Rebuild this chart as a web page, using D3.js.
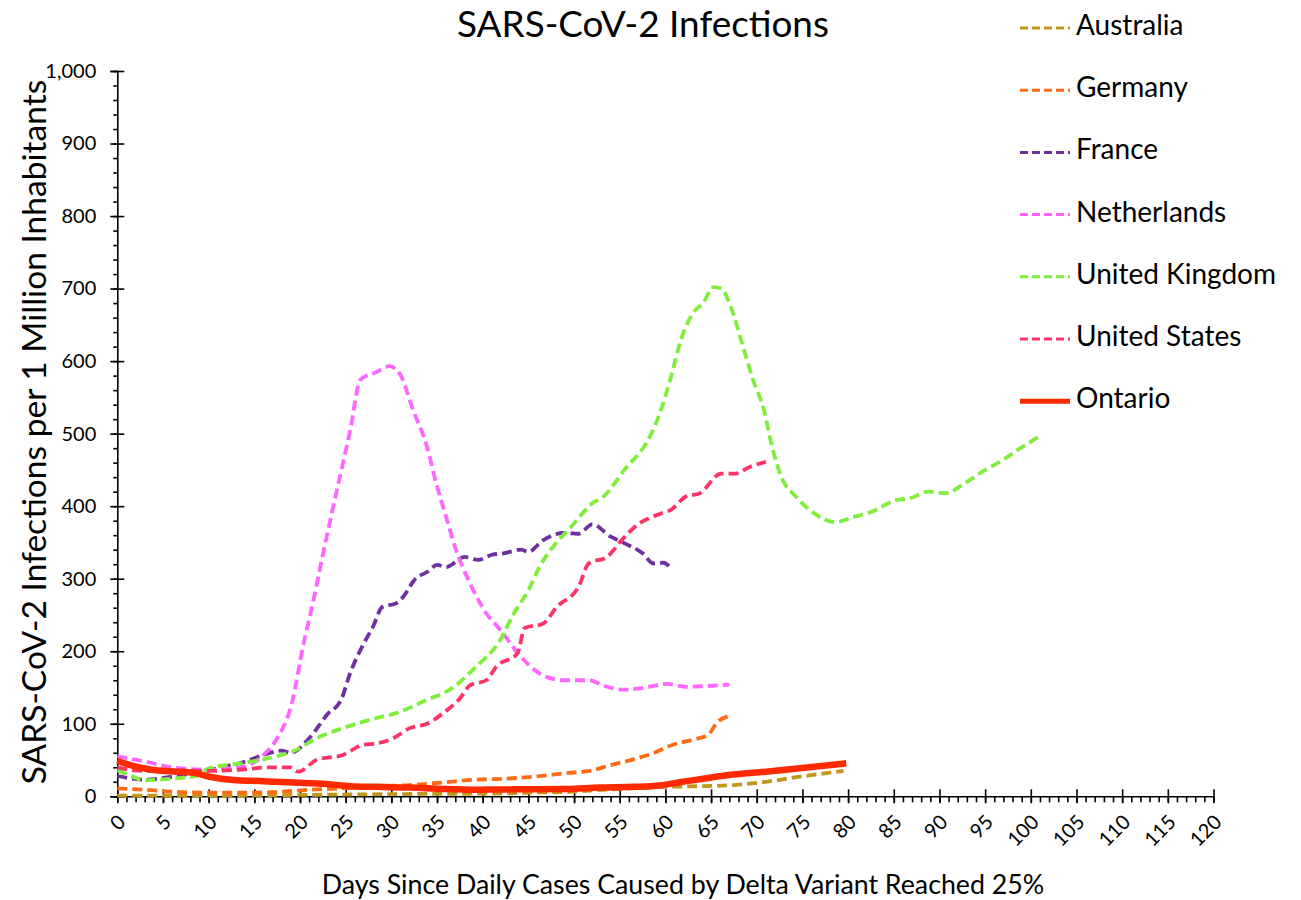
<!DOCTYPE html>
<html>
<head>
<meta charset="utf-8">
<script src="https://cdn.jsdelivr.net/npm/d3@7"></script>
<style>
  body { margin: 0; background: #fff; }
  svg { font-family: Lato, "Open Sans", sans-serif; }
</style>
</head>
<body>
<script>
const W = 1301, H = 900;

// [day, infections per 1M]
const australia = [[0,1],[10,1],[21,2],[30,3],[42,4],[45.5,5],[49,6],[53,9],[56.5,11],[60,13],[64,14],[67.5,15.5],[71,20],[74.7,27],[79.5,35]];
const germany = [[0,11],[3,9],[6.5,6],[10,5],[14,5],[17.5,6],[21,9],[24.7,11],[28.4,14],[32,15.5],[35.6,19],[39.3,23],[42,24],[45.5,27],[49.2,32],[51.7,35],[54,43],[56.5,51],[58.6,59],[60.8,71],[63,78],[64.7,85],[65.6,101],[67,111]];
const france = [[0,28],[3,23],[6,27],[10,36],[14,48],[16,57],[18,63],[19,60],[21,80],[23,113],[24.5,133],[25.5,170],[27,211],[28,234],[29,261],[30.5,266],[31.3,275],[32.5,298],[34,310],[35,319],[36,316],[38,330],[39.5,326],[41,333],[42.3,335],[44.2,340],[45,337],[46.6,353],[48.9,363],[50.5,362],[52,375],[54,358],[55.5,349],[57.5,335],[58.7,321],[59.8,322],[60.5,316]];
const netherlands = [[0,55],[3,48],[6.5,39],[10,37],[13.8,41],[16,57],[17.4,78],[19.2,133],[20.3,205],[21.5,272],[22.5,333],[24,420],[25.5,505],[26.6,574],[28.4,585],[29.8,593],[30.9,583],[32.4,532],[33.9,482],[34.9,432],[36,385],[37.1,339],[38.6,294],[40.4,252],[41.9,230],[44.2,192],[46.9,165],[48.9,160],[51.6,160],[53.6,151],[55.5,147],[57.5,149],[60.2,155],[62.2,151],[64.5,152],[67,154]];
const unitedKingdom = [[0,36],[2.1,25],[2.8,22],[6.5,25],[8.3,27],[10.1,39],[13.8,46],[17.4,55],[19.6,64],[21.8,80],[24.7,94],[28.4,108],[30.6,115],[33.9,133],[36.4,147],[39.3,179],[41.9,215],[43.4,252],[45,284],[46.2,316],[47.7,344],[49.7,372],[52,404],[53.2,413],[55.5,450],[58.3,496],[59.5,532],[60.6,578],[61.8,633],[63,666],[64.1,680],[65.3,702],[66.1,700],[67.3,670],[68.4,624],[69.6,574],[70.8,532],[71.6,486],[72.7,440],[74.3,413],[76.3,390],[78.6,378],[80.6,385],[82.5,392],[85.2,408],[86.8,411],[88.8,420],[90.7,418],[92.7,431],[95,450],[96.6,461],[98.5,477],[100.9,496]];
const unitedStates = [[0,40],[2.8,35],[6.5,36],[10.1,35],[13.8,37],[16.7,40],[18.9,40],[19.8,34],[21.8,50],[24.7,57],[26.9,71],[28.4,73],[30.2,80],[32,94],[33.9,100],[35.6,114],[37.5,135],[38.6,153],[40.4,160],[41.5,179],[43.8,197],[44.6,232],[46.6,238],[48.1,261],[50.5,289],[51.6,321],[53.6,330],[55.2,353],[56.7,372],[59.5,390],[60.6,395],[62.2,413],[63.8,418],[66.1,445],[67.7,445],[69.2,454],[71,461]];
const ontario = [[0,49],[1.4,43],[3.6,37],[6.5,34],[8.3,32.5],[10.1,27],[12.7,22.5],[15.6,21],[19.3,19],[22.9,17],[25.5,14],[28.4,13],[32,12],[35.7,10],[39.3,9],[42,9.5],[45.5,9.6],[49.2,10],[52.8,12],[56.5,13],[59.4,15],[61.9,20],[64.5,25],[67.4,30],[71,34],[74.7,38.6],[79.8,45.5]];

const seriesNames = ["Australia", "Germany", "France", "Netherlands", "United Kingdom", "United States", "Ontario"];
const seriesData = [australia, germany, france, netherlands, unitedKingdom, unitedStates, ontario];
const seriesColors = ["#c4961c", "#ff6a14", "#7030a0", "#ff66ff", "#80ee3c", "#ff3366", "#ff2a00"];

const xTicks = d3.range(0, 121, 5);
const yTicks = d3.range(0, 1001, 100);

const x = d3.scaleLinear().domain([0, 120]).range([117.3, 1213.5]);
const y = d3.scaleLinear().domain([0, 1000]).range([796.3, 71]);

const svg = d3.select('body').append('svg')
  .attr('width', W)
  .attr('height', H);

// fit text to a given width by changing font size
function fitWidth(sel, target) {
  const node = sel.node();
  const fs = parseFloat(sel.attr('font-size'));
  const len = node.getComputedTextLength();
  sel.attr('font-size', fs * target / len);
}

svg.append('text')
  .attr('x', 643).attr('y', 37)
  .attr('text-anchor', 'middle')
  .attr('font-size', 32)
  .text('SARS-CoV-2 Infections')
  .call(fitWidth, 372);

svg.append('text')
  .attr('transform', 'translate(37,432) rotate(-90)')
  .attr('text-anchor', 'middle')
  .attr('dominant-baseline', 'middle')
  .attr('font-size', 24)
  .text('SARS-CoV-2 Infections per 1 Million Inhabitants')
  .call(fitWidth, 705);

svg.append('text')
  .attr('x', 683).attr('y', 887)
  .attr('text-anchor', 'middle')
  .attr('dominant-baseline', 'middle')
  .attr('font-size', 24)
  .text('Days Since Daily Cases Caused by Delta Variant Reached 25%')
  .call(fitWidth, 723);

// minor ticks
svg.append('g')
  .attr('transform', `translate(${x(0)},0)`)
  .call(d3.axisLeft(y).tickValues(d3.range(0, 1001, 20)).tickSize(4).tickFormat(''))
  .call(g => g.select('.domain').remove());
svg.append('g')
  .attr('transform', `translate(0,${y(0)})`)
  .call(d3.axisBottom(x).tickValues(d3.range(0, 121, 1)).tickSize(6).tickFormat(''))
  .call(g => g.select('.domain').remove());

const yAxis = svg.append('g')
  .attr('transform', `translate(${x(0)},0)`)
  .call(d3.axisLeft(y).tickValues(yTicks).tickSize(7).tickPadding(14).tickFormat(d3.format(',')));
yAxis.selectAll('.tick line').attr('x1', 7);
yAxis.selectAll('text').attr('font-size', 20).attr('font-family', 'Lato, sans-serif').attr('fill', '#000');

const xAxis = svg.append('g')
  .attr('transform', `translate(0,${y(0)})`)
  .call(d3.axisBottom(x).tickValues(xTicks).tickSize(7).tickSizeOuter(0));
xAxis.selectAll('.tick line').attr('y1', -7);
xAxis.selectAll('text')
  .attr('font-size', 20).attr('font-family', 'Lato, sans-serif').attr('fill', '#000')
  .attr('y', 0).attr('dy', '0.35em')
  .attr('text-anchor', 'end')
  .attr('transform', 'translate(4,22) rotate(-45)');

svg.selectAll('.domain, .tick line').attr('stroke', '#000').attr('stroke-width', 1.6);

const line = d3.line()
  .x(d => x(d[0]))
  .y(d => y(d[1]))
  .curve(d3.curveMonotoneX);

svg.append('g')
  .selectAll('path')
  .data(seriesData)
  .join('path')
    .attr('d', line)
    .attr('fill', 'none')
    .attr('stroke', (d, i) => seriesColors[i])
    .attr('stroke-width', (d, i) => i === 6 ? 6.5 : 3.8)
    .attr('stroke-dasharray', (d, i) => i === 6 ? null : '10,5')
    .attr('stroke-linejoin', 'round');

const legend = svg.append('g')
  .selectAll('g')
  .data(seriesNames)
  .join('g')
    .attr('transform', (d, i) => `translate(1020,${28 + i * 62.2})`);

legend.append('line')
  .attr('x1', 0).attr('x2', 50)
  .attr('stroke', (d, i) => seriesColors[i])
  .attr('stroke-width', (d, i) => i === 6 ? 5 : 3)
  .attr('stroke-dasharray', (d, i) => i === 6 ? null : '8,4');

legend.append('text')
  .attr('x', 56)
  .attr('dominant-baseline', 'middle')
  .attr('font-size', 28)
  .text(d => d);
</script>
</body>
</html>
